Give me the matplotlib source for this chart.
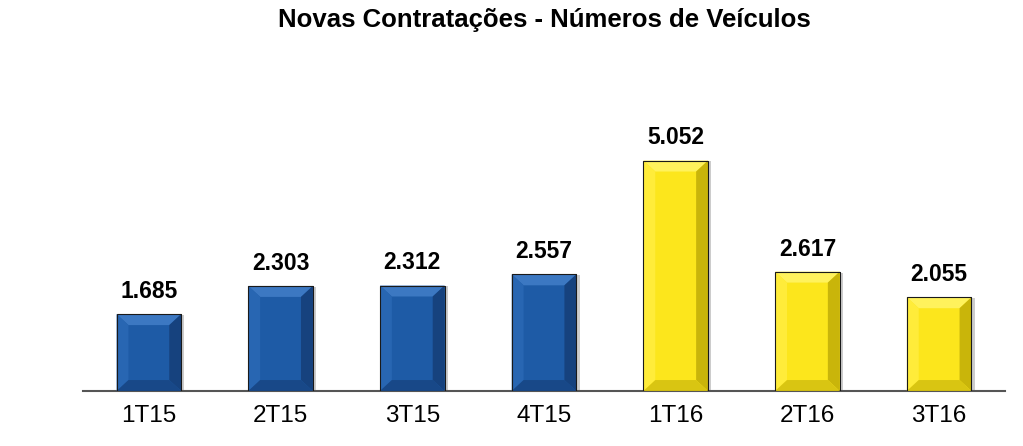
import matplotlib.pyplot as plt
from matplotlib.patches import Polygon

plt.rcParams['font.family'] = ['Liberation Sans', 'DejaVu Sans']

# dados
trimestres = ['1T15', '2T15', '3T15', '4T15', '1T16', '2T16', '3T16']
veiculos = [1.685, 2.303, 2.312, 2.557, 5.052, 2.617, 2.055]
rotulos = ['1.685', '2.303', '2.312', '2.557', '5.052', '2.617', '2.055']
ano = ['15', '15', '15', '15', '16', '16', '16']

# cores (face, topo, esquerda, direita, base)
cores = {
    '15': ('#1E5BA6', '#3C78C2', '#2866B2', '#16427E', '#184888'),
    '16': ('#FCE61C', '#FFF25C', '#FFEC3A', '#C9B50A', '#D9C512'),
}

fig = plt.figure(figsize=(10.23, 4.46), dpi=100)
ax = fig.add_axes([83 / 1023, 55 / 446, 922 / 1023, 291 / 446])

largura = 0.49
bx = 0.09   # bisel horizontal
by = 0.24   # bisel vertical

x = range(len(trimestres))
for i, v, a in zip(x, veiculos, ano):
    face, topo, esq, dir_, base = cores[a]
    # sombra
    ax.bar(i + 0.025, v, width=largura, bottom=-0.02, color='#9A9A9A', alpha=0.5, zorder=1)
    ax.bar(i, v, width=largura, color=face, edgecolor='#222222', linewidth=0.6, zorder=2)
    x0, x1 = i - largura / 2, i + largura / 2
    ax.add_patch(Polygon([(x0, v), (x1, v), (x1 - bx, v - by), (x0 + bx, v - by)],
                         closed=True, color=topo, lw=0, zorder=3))
    ax.add_patch(Polygon([(x0, 0), (x0, v), (x0 + bx, v - by), (x0 + bx, by)],
                         closed=True, color=esq, lw=0, zorder=3))
    ax.add_patch(Polygon([(x1, 0), (x1, v), (x1 - bx, v - by), (x1 - bx, by)],
                         closed=True, color=dir_, lw=0, zorder=3))
    ax.add_patch(Polygon([(x0, 0), (x1, 0), (x1 - bx, by), (x0 + bx, by)],
                         closed=True, color=base, lw=0, zorder=3))
    ax.bar(i, v, width=largura, fill=False, edgecolor='#1A1A1A', linewidth=0.8, zorder=4)

for i, v, r in zip(x, veiculos, rotulos):
    ax.annotate(r, (i, v), xytext=(0, 8), textcoords='offset points',
                ha='center', va='bottom', fontsize=16.5, fontweight='bold')

ax.set_xlim(-0.5, len(trimestres) - 0.5)
ax.set_ylim(0, 6.38)
ax.set_xticks(list(x))
ax.set_xticklabels(trimestres, fontsize=17.5)
ax.tick_params(axis='x', length=0, pad=10)
ax.set_yticks([])
for s in ['top', 'right', 'left']:
    ax.spines[s].set_visible(False)
ax.spines['bottom'].set_color('#555555')
ax.spines['bottom'].set_linewidth(1.5)

fig.text(544 / 1023, 1 - 20 / 446, 'Novas Contratações - Números de Veículos',
         ha='center', va='center', fontsize=18.5, fontweight='bold')

plt.savefig('out.png', dpi=100)
